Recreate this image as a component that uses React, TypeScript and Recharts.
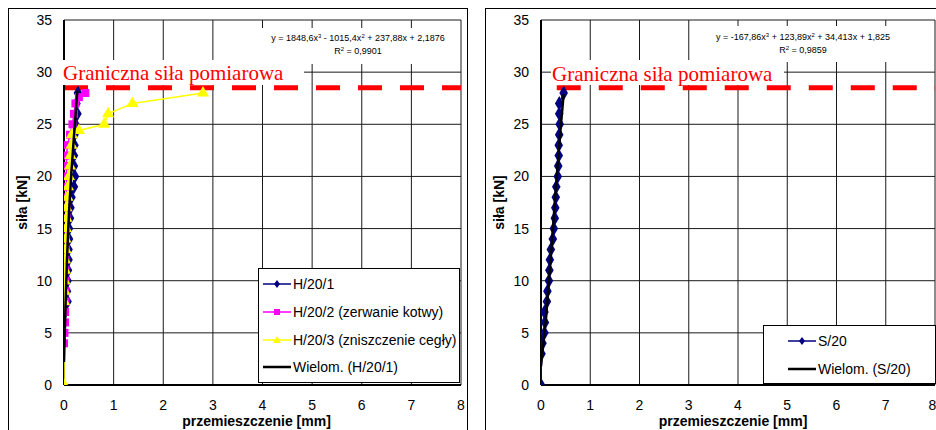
import React from 'react';
import { ScatterChart, Scatter, XAxis, YAxis, ZAxis, CartesianGrid, ReferenceLine } from 'recharts';

type P = { x: number; y: number };

const xTicks = [0, 1, 2, 3, 4, 5, 6, 7, 8];
const yTicks = [0, 5, 10, 15, 20, 25, 30, 35];
const limitForce = 28.5;
const limitLabel = 'Graniczna siła pomiarowa';
const xTitle = 'przemieszczenie [mm]';
const yTitle = 'siła [kN]';

// Left panel: H/20 series
const h201: P[] = [
  { x: 0.02, y: 7 }, { x: 0.07, y: 8 }, { x: 0.06, y: 9 }, { x: 0.07, y: 10 }, { x: 0.08, y: 11 },
  { x: 0.09, y: 12 }, { x: 0.09, y: 13 }, { x: 0.1, y: 14 }, { x: 0.1, y: 15 }, { x: 0.12, y: 16 },
  { x: 0.13, y: 17 }, { x: 0.15, y: 18 }, { x: 0.2, y: 19 }, { x: 0.22, y: 20 }, { x: 0.2, y: 21 },
  { x: 0.2, y: 22 }, { x: 0.21, y: 23 }, { x: 0.21, y: 24 }, { x: 0.23, y: 25 }, { x: 0.27, y: 26 },
  { x: 0.25, y: 27 }, { x: 0.28, y: 28 },
];
const h202: P[] = [
  { x: 0.0, y: 4 }, { x: 0.01, y: 5 }, { x: 0.02, y: 6 }, { x: 0.02, y: 7 }, { x: 0.03, y: 8 },
  { x: 0.03, y: 9 }, { x: 0.03, y: 10 }, { x: 0.03, y: 11 }, { x: 0.03, y: 12 }, { x: 0.04, y: 13 },
  { x: 0.04, y: 14 }, { x: 0.04, y: 15 }, { x: 0.05, y: 16 }, { x: 0.05, y: 17 }, { x: 0.05, y: 18 },
  { x: 0.05, y: 19 }, { x: 0.05, y: 20 }, { x: 0.05, y: 21 }, { x: 0.05, y: 22 }, { x: 0.07, y: 23 },
  { x: 0.12, y: 24 }, { x: 0.17, y: 25 }, { x: 0.2, y: 26 }, { x: 0.23, y: 27 }, { x: 0.3, y: 27.6 },
  { x: 0.43, y: 28 },
];
const h203: P[] = [
  { x: 0.0, y: 0 }, { x: 0.0, y: 8 }, { x: 0.01, y: 9 }, { x: 0.01, y: 10 }, { x: 0.02, y: 11 },
  { x: 0.02, y: 12 }, { x: 0.03, y: 13 }, { x: 0.03, y: 14 }, { x: 0.04, y: 15 }, { x: 0.05, y: 16 },
  { x: 0.05, y: 17 }, { x: 0.07, y: 18 }, { x: 0.08, y: 19 }, { x: 0.1, y: 20 }, { x: 0.12, y: 21 },
  { x: 0.13, y: 22 }, { x: 0.15, y: 23 }, { x: 0.16, y: 24 }, { x: 0.3, y: 24.4 }, { x: 0.81, y: 25 },
  { x: 0.89, y: 26 }, { x: 1.38, y: 27 }, { x: 2.8, y: 28 },
];
const h201Trend: P[] = [
  { x: 0.0, y: 2.2 }, { x: 0.03, y: 7.5 }, { x: 0.06, y: 12 }, { x: 0.1, y: 16.5 },
  { x: 0.15, y: 20.5 }, { x: 0.2, y: 23.8 }, { x: 0.24, y: 26.4 }, { x: 0.27, y: 28.2 },
];

// Right panel: S/20 series
const s20: P[] = [
  { x: 0.0, y: 0 }, { x: 0.01, y: 3 }, { x: 0.03, y: 4 }, { x: 0.07, y: 5 }, { x: 0.08, y: 6 },
  { x: 0.07, y: 7 }, { x: 0.12, y: 8 }, { x: 0.13, y: 9 }, { x: 0.16, y: 10 }, { x: 0.17, y: 11 },
  { x: 0.18, y: 12 }, { x: 0.2, y: 13 }, { x: 0.24, y: 14 }, { x: 0.26, y: 15 }, { x: 0.28, y: 16 },
  { x: 0.29, y: 17 }, { x: 0.3, y: 18 }, { x: 0.31, y: 19 }, { x: 0.34, y: 20 }, { x: 0.35, y: 21 },
  { x: 0.36, y: 22 }, { x: 0.36, y: 23 }, { x: 0.37, y: 24 }, { x: 0.38, y: 25 }, { x: 0.37, y: 26 },
  { x: 0.37, y: 27 }, { x: 0.46, y: 28 },
];
const s20Trend: P[] = [
  { x: 0.0, y: 1.8 }, { x: 0.1, y: 6.3 }, { x: 0.2, y: 12.3 }, { x: 0.3, y: 18.8 },
  { x: 0.4, y: 24.7 }, { x: 0.46, y: 27.9 },
];

const leftLegend = ['H/20/1', 'H/20/2 (zerwanie kotwy)', 'H/20/3 (zniszczenie cegły)', 'Wielom. (H/20/1)'];
const rightLegend = ['S/20', 'Wielom. (S/20)'];

const NAVY = '#000080';
const MAGENTA = '#ff00ff';
const YELLOW = '#ffff00';
const RED = '#ff0000';
const SANS = '"Liberation Sans", Arial, sans-serif';
const SERIF = '"Liberation Serif", "Times New Roman", serif';

const noDot = () => <g />;

const tickStyle = { fill: '#000', fontSize: 14, fontFamily: SANS };
const titleStyle = { fill: '#000', fontSize: 14, fontWeight: 'bold' as const, fontFamily: SANS };

function Axes({ xDx }: { xDx: number }) {
  return null;
}

function LeftChart() {
  return (
    <ScatterChart width={459} height={422} margin={{ top: 12, right: 6, bottom: 0, left: 0 }}>
      <CartesianGrid stroke="#1a1a1a" strokeWidth={1} />
      <XAxis
        type="number" dataKey="x" domain={[0, 8]} ticks={xTicks} height={45}
        tickLine={false} tickSize={0} tickMargin={15} tick={tickStyle}
        axisLine={{ stroke: '#000', strokeWidth: 2 }} allowDataOverflow
        label={{ value: xTitle, position: 'insideBottom', offset: 4, dx: -6, style: { ...titleStyle, textAnchor: 'middle' } }}
      />
      <YAxis
        type="number" dataKey="y" domain={[0, 35]} ticks={yTicks} width={56}
        tickLine={false} tickSize={0} tickMargin={12} tick={tickStyle}
        axisLine={{ stroke: '#000', strokeWidth: 2 }} allowDataOverflow
        label={{ value: yTitle, angle: -90, position: 'insideLeft', offset: 14, style: { ...titleStyle, textAnchor: 'middle' } }}
      />
      <ZAxis range={[30, 30]} />
      <ReferenceLine
        segment={[{ x: 0, y: limitForce }, { x: 8, y: limitForce }]}
        stroke={RED} strokeWidth={5} strokeDasharray="24 18"
      />
      <Scatter name={leftLegend[0]} data={h201} fill={NAVY} shape="diamond" line={{ stroke: NAVY, strokeWidth: 1.5 }} lineType="joint" isAnimationActive={false} />
      <Scatter name={leftLegend[1]} data={h202} fill={MAGENTA} shape="square" line={{ stroke: MAGENTA, strokeWidth: 1.5 }} lineType="joint" isAnimationActive={false} />
      <Scatter name={leftLegend[2]} data={h203} fill={YELLOW} shape="triangle" line={{ stroke: YELLOW, strokeWidth: 1.5 }} lineType="joint" isAnimationActive={false} />
      <Scatter name={leftLegend[3]} data={h201Trend} fill="#000" shape={noDot} line={{ stroke: '#000', strokeWidth: 2.5 }} lineType="joint" isAnimationActive={false} />
    </ScatterChart>
  );
}

function RightChart() {
  return (
    <ScatterChart width={451} height={422} margin={{ top: 12, right: 1, bottom: 0, left: 0 }}>
      <CartesianGrid stroke="#1a1a1a" strokeWidth={1} />
      <XAxis
        type="number" dataKey="x" domain={[0, 8]} ticks={xTicks} height={45}
        tickLine={false} tickSize={0} tickMargin={15} tick={tickStyle}
        axisLine={{ stroke: '#000', strokeWidth: 2 }} allowDataOverflow
        label={{ value: xTitle, position: 'insideBottom', offset: 4, dx: -5, style: { ...titleStyle, textAnchor: 'middle' } }}
      />
      <YAxis
        type="number" dataKey="y" domain={[0, 35]} ticks={yTicks} width={56}
        tickLine={false} tickSize={0} tickMargin={12} tick={tickStyle}
        axisLine={{ stroke: '#000', strokeWidth: 2 }} allowDataOverflow
        label={{ value: yTitle, angle: -90, position: 'insideLeft', offset: 14, style: { ...titleStyle, textAnchor: 'middle' } }}
      />
      <ZAxis range={[30, 30]} />
      <ReferenceLine
        segment={[{ x: 0.32, y: limitForce }, { x: 8, y: limitForce }]}
        stroke={RED} strokeWidth={5} strokeDasharray="24 18"
      />
      <Scatter name={rightLegend[0]} data={s20} fill={NAVY} shape="diamond" line={{ stroke: NAVY, strokeWidth: 1.5 }} lineType="joint" isAnimationActive={false} />
      <Scatter name={rightLegend[1]} data={s20Trend} fill="#000" shape={noDot} line={{ stroke: '#000', strokeWidth: 2.5 }} lineType="joint" isAnimationActive={false} />
    </ScatterChart>
  );
}

function Marker({ kind, cx, cy, color }: { kind: string; cx: number; cy: number; color: string }) {
  if (kind === 'diamond') return <polygon points={`${cx},${cy - 4} ${cx + 3},${cy} ${cx},${cy + 4} ${cx - 3},${cy}`} fill={color} />;
  if (kind === 'square') return <rect x={cx - 3} y={cy - 3} width={6} height={6} fill={color} />;
  if (kind === 'triangle') return <polygon points={`${cx},${cy - 4} ${cx + 4},${cy + 3} ${cx - 4},${cy + 3}`} fill={color} />;
  return null;
}

function LegendBox({ x, y, w, h, lineX1, lineX2, textX, rows }: any) {
  return (
    <g>
      <rect x={x + 0.5} y={y + 0.5} width={w} height={h} fill="#fff" stroke="#000" strokeWidth={1} />
      {rows.map((r: any, i: number) => (
        <g key={i}>
          <line x1={lineX1} x2={lineX2} y1={r.y} y2={r.y} stroke={r.color} strokeWidth={r.kind === 'none' ? 2.5 : 1.5} />
          <Marker kind={r.kind} cx={(lineX1 + lineX2) / 2} cy={r.y} color={r.color} />
          <text x={textX} y={r.y + 5} fontSize={14} fontFamily={SANS} fill="#000">{r.label}</text>
        </g>
      ))}
    </g>
  );
}

function Equation({ cx, y, coeffs, r2 }: { cx: number; y: number; coeffs: string[]; r2: string }) {
  return (
    <g fontFamily={SANS} fontSize={9} fill="#000">
      <text x={cx} y={y} textAnchor="middle">
        {coeffs[0]}<tspan dy={-3} fontSize={6}>3</tspan><tspan dy={3}>{coeffs[1]}</tspan>
        <tspan dy={-3} fontSize={6}>2</tspan><tspan dy={3}>{coeffs[2]}</tspan>
      </text>
      <text x={cx} y={y + 13} textAnchor="middle">
        R<tspan dy={-3} fontSize={6}>2</tspan><tspan dy={3}>{r2}</tspan>
      </text>
    </g>
  );
}

export default function App() {
  return (
    <div style={{ position: 'absolute', left: 0, top: 0, width: 936, height: 430, overflow: 'hidden', background: '#fff' }}>
      <div style={{ position: 'absolute', left: 8, top: 8, width: 460, height: 440, border: '1px solid #000', boxSizing: 'border-box' }} />
      <div style={{ position: 'absolute', left: 485, top: 8, width: 470, height: 440, border: '1px solid #000', boxSizing: 'border-box' }} />
      <div style={{ position: 'absolute', left: 8, top: 8 }}>
        <LeftChart />
      </div>
      <div style={{ position: 'absolute', left: 485, top: 8 }}>
        <RightChart />
      </div>
      <svg width={936} height={430} style={{ position: 'absolute', left: 0, top: 0, pointerEvents: 'none' }}>
        {/* left annotations */}
        <rect x={258} y={28} width={200} height={36} fill="#fff" />
        <Equation cx={358} y={41} coeffs={['y = 1848,6x', ' - 1015,4x', ' + 237,88x + 2,1876']} r2={' = 0,9901'} />
        <rect x={63} y={60} width={241} height={25} fill="#fff" />
        <text x={63} y={80} fontFamily={SERIF} fontSize={21} fill={RED}>{limitLabel}</text>
        <LegendBox
          x={258} y={268} w={201} h={114} lineX1={263} lineX2={291} textX={293}
          rows={[
            { y: 284, color: NAVY, kind: 'diamond', label: leftLegend[0] },
            { y: 312, color: MAGENTA, kind: 'square', label: leftLegend[1] },
            { y: 340, color: YELLOW, kind: 'triangle', label: leftLegend[2] },
            { y: 367, color: '#000', kind: 'none', label: leftLegend[3] },
          ]}
        />
        {/* right annotations */}
        <rect x={702} y={26} width={200} height={36} fill="#fff" />
        <Equation cx={803} y={40} coeffs={['y = -167,86x', ' + 123,89x', ' + 34,413x + 1,825']} r2={' = 0,9859'} />
        <rect x={551} y={60} width={233} height={25} fill="#fff" />
        <text x={552} y={81} fontFamily={SERIF} fontSize={21} fill={RED}>{limitLabel}</text>
        <LegendBox
          x={763} y={325} w={172} h={58} lineX1={788} lineX2={816} textX={818}
          rows={[
            { y: 341, color: NAVY, kind: 'diamond', label: rightLegend[0] },
            { y: 369, color: '#000', kind: 'none', label: rightLegend[1] },
          ]}
        />
      </svg>
    </div>
  );
}
